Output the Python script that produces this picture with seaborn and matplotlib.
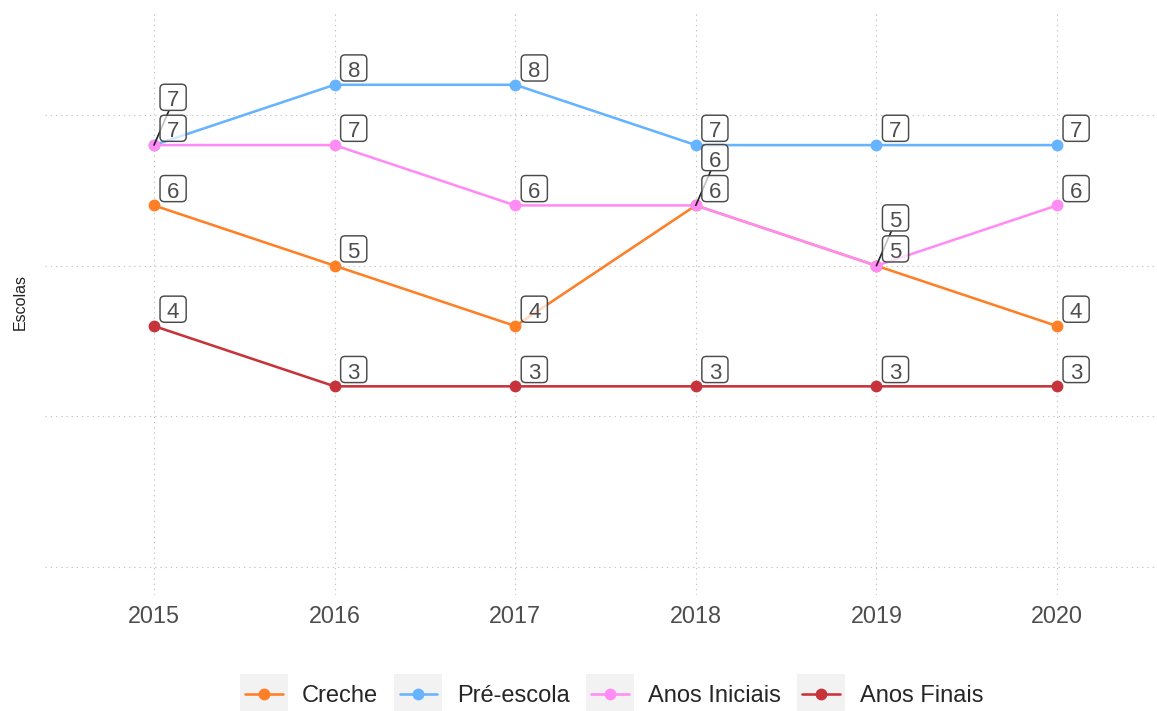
import numpy as np
import pandas as pd
import seaborn as sns
import matplotlib
matplotlib.use("Agg")
import matplotlib.pyplot as plt
from matplotlib.patches import BoxStyle, Rectangle
from matplotlib.lines import Line2D

# Número de escolas por etapa de ensino
anos = [2015, 2016, 2017, 2018, 2019, 2020]
creche = [6, 5, 4, 6, 5, 4]
pre_escola = [7, 8, 8, 7, 7, 7]
anos_iniciais = [7, 7, 6, 6, 5, 6]
anos_finais = [4, 3, 3, 3, 3, 3]
etapas = ["Creche", "Pré-escola", "Anos Iniciais", "Anos Finais"]
cores = ["#FF7F27", "#66B3FF", "#FF8CF5", "#C7333A"]
y_breaks = [0, 2.5, 5, 7.5]

df = pd.DataFrame({
    "ano": anos * len(etapas),
    "etapa": np.repeat(etapas, len(anos)),
    "escolas": creche + pre_escola + anos_iniciais + anos_finais,
})

sns.set_style("white")
plt.rcParams["font.family"] = ["Liberation Sans", "DejaVu Sans"]

W, H = 1157, 711
fig = plt.figure(figsize=(W / 100, H / 100), dpi=100)
panel_l, panel_r, panel_t, panel_b = 45, 1157, 10, 595
ax = fig.add_axes([panel_l / W, 1 - panel_b / H,
                   (panel_r - panel_l) / W, (panel_b - panel_t) / H])

sns.lineplot(data=df, x="ano", y="escolas", hue="etapa", hue_order=etapas,
             palette=cores, marker="o", markersize=8.5, markeredgewidth=0,
             linewidth=1.85, ax=ax, legend=False)

# escalas
px_per_year = 180.6
ax.set_xlim(2015 - 109 / px_per_year, 2015 + (panel_r - 154) / px_per_year)
ax.set_ylim(-0.46, 9.24)
ax.set_xticks(anos)
ax.set_xticklabels([str(a) for a in anos])
ax.set_yticks(y_breaks)
ax.set_yticklabels([])
ax.tick_params(axis="both", length=0)
ax.tick_params(axis="x", labelsize=16.8, labelcolor="#4D4D4D", pad=7)
ax.grid(True, color="#C4C4C4", linewidth=0.8, linestyle=(0, (1.2, 3.5)))
for s in ax.spines.values():
    s.set_visible(False)
ax.set_xlabel("")
ax.set_ylabel("Escolas", fontsize=11.5, color="#222222")
ax.yaxis.set_label_coords(-17 / (panel_r - panel_l), 0.5)


def label_box(x0, y0, width, height, mutation_size):
    # caixa arredondada com folga horizontal maior que a vertical
    m = mutation_size
    base = y0 + 0.21 * m
    padx = 0.31 * m
    bottom = base - 0.16 * m
    top = base + 0.716 * m + 0.30 * m
    return BoxStyle.Round(pad=0, rounding_size=0.2)(
        x0 - padx, bottom, width + 2 * padx, top - bottom, m)


series = {"Creche": creche, "Pré-escola": pre_escola,
          "Anos Iniciais": anos_iniciais, "Anos Finais": anos_finais}
ocupados = {}
for etapa in etapas:
    for ano, v in zip(anos, series[etapa]):
        k = ocupados.get((ano, v), 0)
        ocupados[(ano, v)] = k + 1
        dy = 5.5 + 22.3 * k
        kw = dict(xy=(ano, v), xytext=(9.3, dy), textcoords="offset points",
                  ha="left", va="baseline", fontsize=16, color="#4D4D4D",
                  bbox=dict(boxstyle=label_box, fc=(1, 1, 1, 0.72),
                            ec="#4A4A4A", lw=1.05),
                  zorder=6 - k)
        if k > 0:
            kw["arrowprops"] = dict(arrowstyle="-", color="#222222", lw=1.2,
                                    shrinkA=0, shrinkB=0)
        ax.annotate(str(v), **kw)

# legenda
handles = [Line2D([], [], color=c, marker="o", markersize=8.5,
                  markeredgewidth=0, linewidth=1.85) for c in cores]
leg = fig.legend(handles, etapas, loc="center",
                 bbox_to_anchor=(614 / W, 1 - 696 / H), ncol=4, frameon=False,
                 fontsize=17, handlelength=1.6, handletextpad=0.83,
                 columnspacing=0.9)
fig.canvas.draw()
renderer = fig.canvas.get_renderer()
for ln in leg.get_lines():
    bb = ln.get_window_extent(renderer)
    cx, cy = (bb.x0 + bb.x1) / 2, (bb.y0 + bb.y1) / 2
    fig.add_artist(Rectangle((cx - 24, cy - 20), 48, 40, transform=None,
                             facecolor="#F2F2F2", edgecolor="none", zorder=0.5))

fig.savefig("out.png", dpi=100)
